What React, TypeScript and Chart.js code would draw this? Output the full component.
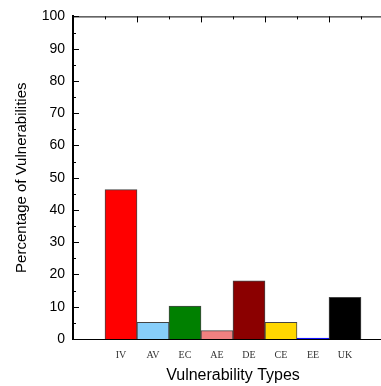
import React, { useEffect, useRef } from "react";
import { Chart, registerables } from "chart.js";

Chart.register(...registerables);

const categories = ["IV", "AV", "EC", "AE", "DE", "CE", "EE", "UK"];
const percentages = [46.3, 5.2, 10.2, 2.6, 18.0, 5.2, 0.3, 12.9];
const barColors = ["#ff0000", "#87cefa", "#008000", "#f08080", "#8b0000", "#ffd700", "#0000ff", "#000000"];
const borderColors = ["#444444", "#444444", "#444444", "#444444", "#444444", "#444444", "#0000ff", "#444444"];
const yTicks = [0, 10, 20, 30, 40, 50, 60, 70, 80, 90, 100];

const sansFont = "'Liberation Sans', Arial, sans-serif";
const serifFont = "'Liberation Serif', 'Times New Roman', serif";

const axisTicksPlugin = {
  id: "axisTicks",
  afterDraw(chart: any) {
    const { ctx, chartArea } = chart;
    const x = chart.scales.x;
    const y = chart.scales.y;
    ctx.save();
    ctx.strokeStyle = "#000";
    ctx.lineWidth = 1;
    for (let v = 0; v <= 100; v += 5) {
      const py = Math.round(y.getPixelForValue(v)) + 0.5;
      const len = v % 10 === 0 ? 6 : 3;
      ctx.beginPath();
      ctx.moveTo(chartArea.left, py);
      ctx.lineTo(chartArea.left + len, py);
      ctx.stroke();
    }
    ctx.beginPath();
    ctx.moveTo(chartArea.left, chartArea.top + 0.5);
    ctx.lineTo(chartArea.right, chartArea.top + 0.5);
    ctx.stroke();
    const slot = x.getPixelForValue(1) - x.getPixelForValue(0);
    const n = x.getLabels().length;
    for (let i = 0; i <= n; i++) {
      const px = Math.round(x.getPixelForValue(0) - slot / 2 + i * slot) + 0.5;
      const len = i % 2 === 0 ? 6 : 3;
      ctx.beginPath();
      ctx.moveTo(px, chartArea.top);
      ctx.lineTo(px, chartArea.top + len);
      ctx.stroke();
    }
    ctx.restore();
  },
};

export default function App() {
  const ref = useRef<HTMLCanvasElement>(null);
  useEffect(() => {
    const labels = ["", ...categories, ""];
    const data = [null, ...percentages, null];
    const bg = ["#fff", ...barColors, "#fff"];
    const bc = ["#fff", ...borderColors, "#fff"];
    const chart = new Chart(ref.current!, {
      type: "bar",
      data: {
        labels,
        datasets: [
          {
            data: data as any,
            backgroundColor: bg,
            borderColor: bc,
            borderWidth: 1,
            barPercentage: 1,
            categoryPercentage: 1,
          },
        ],
      },
      options: {
        responsive: false,
        animation: false,
        devicePixelRatio: 1,
        layout: { padding: { top: 15, right: 7, left: 0, bottom: 0 } },
        plugins: { legend: { display: false }, tooltip: { enabled: false } },
        scales: {
          x: {
            offset: true,
            grid: { display: false, drawTicks: false },
            border: { display: true, color: "#000", width: 1 },
            ticks: {
              padding: 10,
              color: "#333",
              font: { family: serifFont, size: 10 },
              maxRotation: 0,
              autoSkip: false,
            },
            title: {
              display: true,
              text: "Vulnerability Types",
              color: "#000",
              font: { family: sansFont, size: 16 },
              padding: { top: 0, bottom: 1 },
            },
            afterFit: (s: any) => {
              s.height = 47;
            },
          },
          y: {
            min: 0,
            max: 100,
            afterBuildTicks: (s: any) => {
              s.ticks = yTicks.map((v) => ({ value: v }));
            },
            grid: { display: false, drawTicks: false },
            border: { display: true, color: "#000", width: 2 },
            ticks: {
              padding: 8,
              color: "#000",
              font: { family: sansFont, size: 14 },
            },
            title: {
              display: true,
              text: "Percentage of Vulnerabilities",
              color: "#000",
              font: { family: sansFont, size: 15 },
              padding: { top: 13, bottom: 0 },
            },
            afterFit: (s: any) => {
              s.width = 73;
            },
          },
        },
      },
      plugins: [axisTicksPlugin],
    });
    return () => chart.destroy();
  }, []);
  return (
    <div style={{ position: "fixed", left: 0, top: 0, width: 400, height: 386, background: "#fff" }}>
      <canvas ref={ref} width={400} height={386} />
    </div>
  );
}
